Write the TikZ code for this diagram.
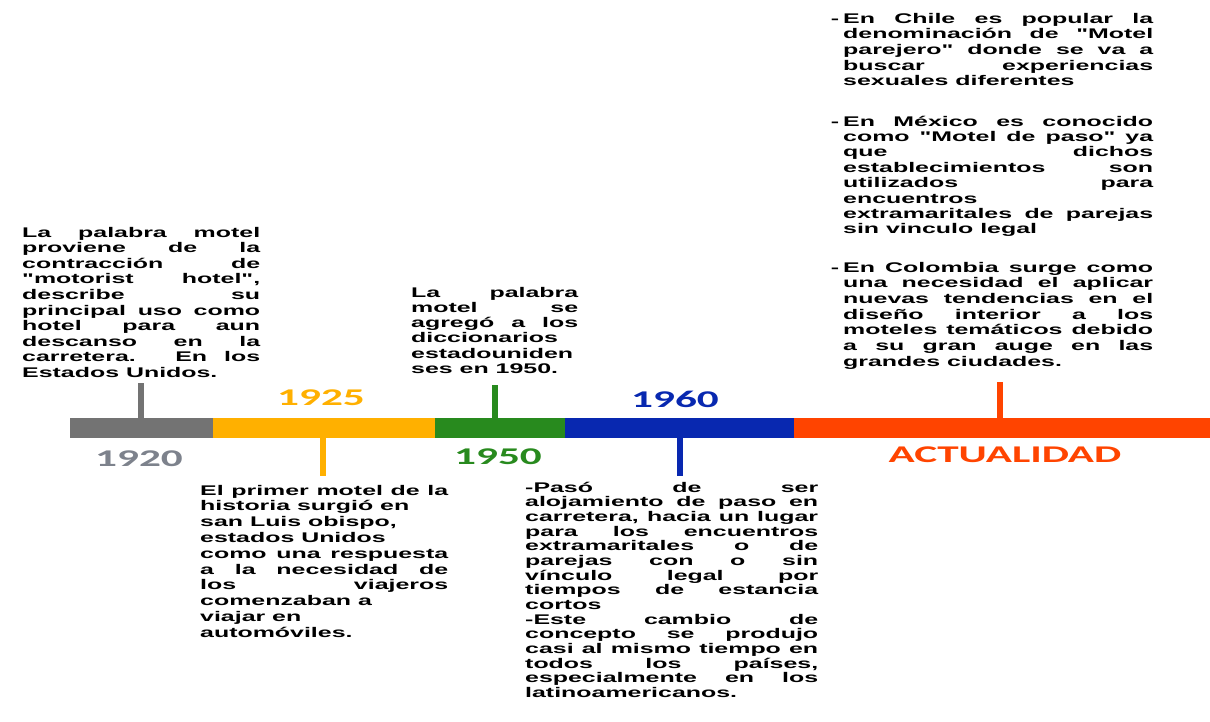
\documentclass[tikz,border=0pt]{standalone}
\usepackage{fontspec}
\newfontfamily\bodyfont[FakeStretch=1.78]{Liberation Sans}
\newfontfamily\yearfont[FakeStretch=1.8]{Carlito}

\definecolor{cgray}{RGB}{115,115,115}
\definecolor{cgraytxt}{RGB}{125,130,140}
\definecolor{cyellow}{RGB}{255,176,0}
\definecolor{cgreen}{RGB}{40,138,30}
\definecolor{cblue}{RGB}{8,40,176}
\definecolor{cred}{RGB}{255,68,0}

% one line of a text block: justified (J) or ragged (R)
\newlength\blockw
\newcommand\J[1]{\hbox to\blockw{#1}}
\newcommand\R[1]{\hbox to\blockw{#1\hfil}}
% stacked lines: width, line pitch, lines
\newcommand\textblock[3]{\vtop{\bodyfont\bfseries\fontsize{14pt}{#2}\selectfont
  \blockw=#1\relax\baselineskip=#2\relax\lineskiplimit=-100pt\relax #3}}

\tikzset{
  seg/.style={rectangle, draw=none, inner sep=0pt, minimum height=20pt},
  tick/.style={line width=6pt, line cap=butt},
  year/.style={inner sep=0pt, anchor=base, font=\yearfont\bfseries\fontsize{24pt}{24pt}\selectfont},
  body/.style={inner sep=0pt, anchor=base west, text=black},
}

\begin{document}
\begin{tikzpicture}[x=1pt, y=-1pt]
\useasboundingbox (0,0) rectangle (1210,721);
\fill[white] (0,0) rectangle (1210,721);

% timeline segments
\node[seg, fill=cgray,   minimum width=143pt] (s1920) at (141.5,428) {};
\node[seg, fill=cyellow, minimum width=222pt] (s1925) at (324,428) {};
\node[seg, fill=cgreen,  minimum width=130pt] (s1950) at (500,428) {};
\node[seg, fill=cblue,   minimum width=229pt] (s1960) at (679.5,428) {};
\node[seg, fill=cred,    minimum width=416pt] (sact)  at (1002,428) {};

% year labels
\node[year, text=cgraytxt] (y1920) at (139,466) {1920};
\node[year, text=cyellow]  (y1925) at (321,405.5) {1925};
\node[year, text=cgreen]   (y1950) at (498,464.5) {1950};
\node[year, text=cblue]    (y1960) at (675,407) {1960};
\node[year, text=cred]     (yact)  at (1005,462) {ACTUALIDAD};

% tick ends
\coordinate (k1920) at (141,383);
\coordinate (k1925) at (323,476);
\coordinate (k1950) at (495,385);
\coordinate (k1960) at (680,476);
\coordinate (kact)  at (1000,382);

\draw[tick, cgray]   (s1920.north -| k1920) -- (k1920);
\draw[tick, cyellow] (s1925.south -| k1925) -- (k1925);
\draw[tick, cgreen]  (s1950.north -| k1950) -- (k1950);
\draw[tick, cblue]   (s1960.south -| k1960) -- (k1960);
\draw[tick, cred]    (sact.north -| kact)   -- (kact);

% text blocks
\node[body] (t1920) at (22,237) {\textblock{238pt}{15.6pt}{%
  \J{La palabra motel}
  \J{proviene de la}
  \J{contracción de}
  \J{"motorist hotel",}
  \J{describe su}
  \J{principal uso como}
  \J{hotel para aun}
  \J{descanso en la}
  \J{carretera. En los}
  \R{Estados Unidos.}}};

\node[body] (t1925) at (200,495) {\textblock{248pt}{15.8pt}{%
  \J{El primer motel de la}
  \R{historia surgió en}
  \R{san Luis obispo,}
  \R{estados Unidos}
  \J{como una respuesta}
  \J{a la necesidad de}
  \J{los viajeros}
  \R{comenzaban a}
  \R{viajar en}
  \R{automóviles.}}};

\node[body] (t1950) at (411,297) {\textblock{167pt}{15.3pt}{%
  \J{La palabra}
  \J{motel se}
  \J{agregó a los}
  \R{diccionarios}
  \R{estadouniden}
  \R{ses en 1950.}}};

\node[body] (t1960) at (525,492) {\textblock{293pt}{14.67pt}{%
  \J{-Pasó de ser}
  \J{alojamiento de paso en}
  \J{carretera, hacia un lugar}
  \J{para los encuentros}
  \J{extramaritales o de}
  \J{parejas con o sin}
  \J{vínculo legal por}
  \J{tiempos de estancia}
  \R{cortos}
  \J{-Este cambio de}
  \J{concepto se produjo}
  \J{casi al mismo tiempo en}
  \J{todos los países,}
  \J{especialmente en los}
  \R{latinoamericanos.}}};

\node[body] (tchile) at (843,23) {\textblock{310pt}{15.7pt}{%
  \J{\llap{-\hskip4pt}En Chile es popular la}
  \J{denominación de "Motel}
  \J{parejero" donde se va a}
  \J{buscar experiencias}
  \R{sexuales diferentes}}};

\node[body] (tmexico) at (843,126) {\textblock{310pt}{15.4pt}{%
  \J{\llap{-\hskip4pt}En México es conocido}
  \J{como "Motel de paso" ya}
  \J{que dichos}
  \J{establecimientos son}
  \J{utilizados para}
  \R{encuentros}
  \J{extramaritales de parejas}
  \R{sin vinculo legal}}};

\node[body] (tcolombia) at (843,272) {\textblock{310pt}{15.7pt}{%
  \J{\llap{-\hskip4pt}En Colombia surge como}
  \J{una necesidad el aplicar}
  \J{nuevas tendencias en el}
  \J{diseño interior a los}
  \J{moteles temáticos debido}
  \J{a su gran auge en las}
  \R{grandes ciudades.}}};
\end{tikzpicture}
\end{document}
